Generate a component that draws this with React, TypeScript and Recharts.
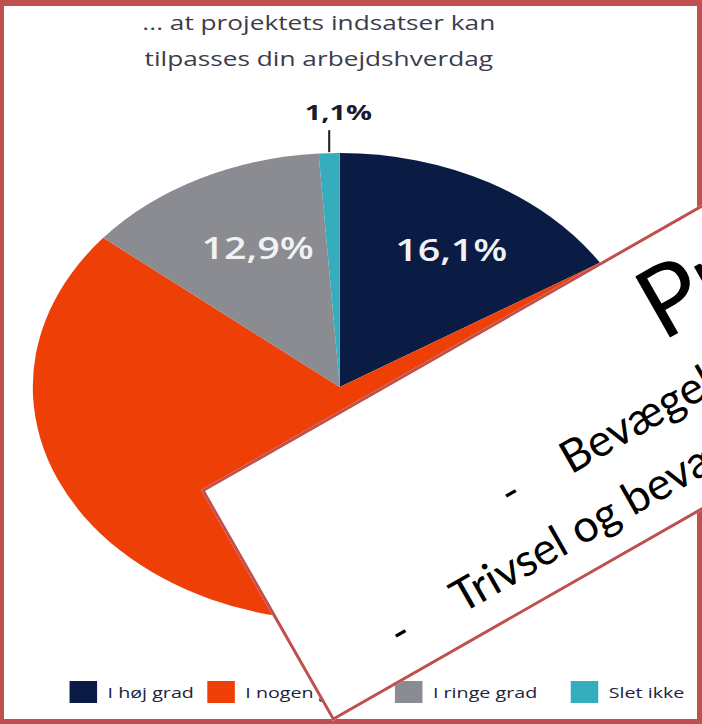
import { PieChart, Pie, Cell } from 'recharts'

const categories = ['I høj grad', 'I nogen grad', 'I ringe grad', 'Slet ikke']
const shares = [16.1, 69.9, 12.9, 1.1]
const colors = ['#0b1c44', '#ee4006', '#8b8c92', '#36adbd']
const titleLines = ['... at projektets indsatser kan', 'tilpasses din arbejdshverdag']
const slideTitle = 'Projektet'
const slideBullets = ['Bevægelse', 'Trivsel og bevægelse']

const data = categories.map((name, i) => ({ name, value: shares[i] }))

// the pasted chart picture is stretched sideways
const S = 1.312
const W = 702 / S
const RAD = Math.PI / 180
const FRAME = '#c0504d'
const legendLeft = [53, 158, 301, 435]

const fmt = (v: number) => `${v.toFixed(1).replace('.', ',')}%`

function renderLabel(p: any) {
  const { cx, cy, midAngle, outerRadius, index } = p
  const v = shares[index]
  const cos = Math.cos(-midAngle * RAD)
  const sin = Math.sin(-midAngle * RAD)
  if (v < 5) {
    const x = cx + outerRadius * cos
    const y = cy + outerRadius * sin
    return (
      <g key={`l${index}`}>
        <line x1={x} y1={y - 1} x2={x} y2={y - 23} stroke="#222" strokeWidth={1.6} />
        <text x={x + 7} y={y - 33} textAnchor="middle" fill="#1b1b2b" fontSize={22} fontWeight={700}>
          {fmt(v)}
        </text>
      </g>
    )
  }
  const r = outerRadius * 0.67
  return (
    <text
      key={`l${index}`}
      x={cx + r * cos + 9}
      y={cy + r * sin}
      textAnchor="middle"
      dominantBaseline="central"
      fill="#f2f2f2"
      fontSize={30}
      fontWeight={600}
    >
      {fmt(v)}
    </text>
  )
}

export default function App() {
  return (
    <div style={{ position: 'absolute', left: 0, top: 0, width: 702, height: 724, overflow: 'hidden', background: '#fff' }}>
      <div
        style={{
          position: 'absolute', left: 0, top: 0, width: W, height: 724,
          transform: `scaleX(${S})`, transformOrigin: '0 0', fontFamily: '"Open Sans", sans-serif',
        }}
      >
        <svg width={W} height={80} style={{ position: 'absolute', left: 0, top: 0 }}>
          {titleLines.map((t, i) => (
            <text key={t} x={243} y={30 + i * 36} textAnchor="middle" fontSize={20} fill="#3c3c4c">{t}</text>
          ))}
        </svg>
        <PieChart width={W} height={724} margin={{ top: 0, right: 0, bottom: 0, left: 0 }}>
          <Pie
            data={data}
            dataKey="value"
            nameKey="name"
            cx={259}
            cy={387}
            outerRadius={234}
            startAngle={90}
            endAngle={-270}
            stroke="none"
            label={renderLabel}
            labelLine={false}
            isAnimationActive={false}
          >
            {data.map((d, i) => <Cell key={d.name} fill={colors[i]} />)}
          </Pie>
        </PieChart>
        {categories.map((c, i) => (
          <div
            key={c}
            style={{
              position: 'absolute', left: legendLeft[i], top: 681, height: 22,
              display: 'flex', alignItems: 'center', whiteSpace: 'nowrap',
            }}
          >
            <span style={{ width: 20.5, height: 22, background: colors[i], display: 'inline-block' }} />
            <span style={{ marginLeft: 8.5, fontSize: 15, fontWeight: 500, color: '#1c2340', lineHeight: '22px' }}>{c}</span>
          </div>
        ))}
      </div>

      <div
        style={{
          position: 'absolute', left: 0, top: 0, width: 702, height: 724, boxSizing: 'border-box',
          borderStyle: 'solid', borderColor: FRAME, borderWidth: '6px 5px 5px 4px',
        }}
      />

      <div
        style={{
          position: 'absolute', left: 201, top: 490, width: 1000, height: 266, boxSizing: 'border-box',
          background: '#fff', border: `3px solid ${FRAME}`,
          transform: 'rotate(-29.7deg)', transformOrigin: '0 0',
        }}
      >
        <svg width={1000} height={266} style={{ position: 'absolute', left: -3, top: -3 }} fontFamily="Lato, sans-serif">
          <text x={474} y={100} fontSize={98} fill="#000">{slideTitle}</text>
          <text x={259} y={170} fontSize={45} fill="#000">-</text>
          <text x={329} y={170} fontSize={45} fill="#000">{slideBullets[0]}</text>
          <text x={94} y={237} fontSize={45} fill="#000">-</text>
          <text x={165} y={237} fontSize={45} fill="#000">{slideBullets[1]}</text>
        </svg>
      </div>
    </div>
  )
}
